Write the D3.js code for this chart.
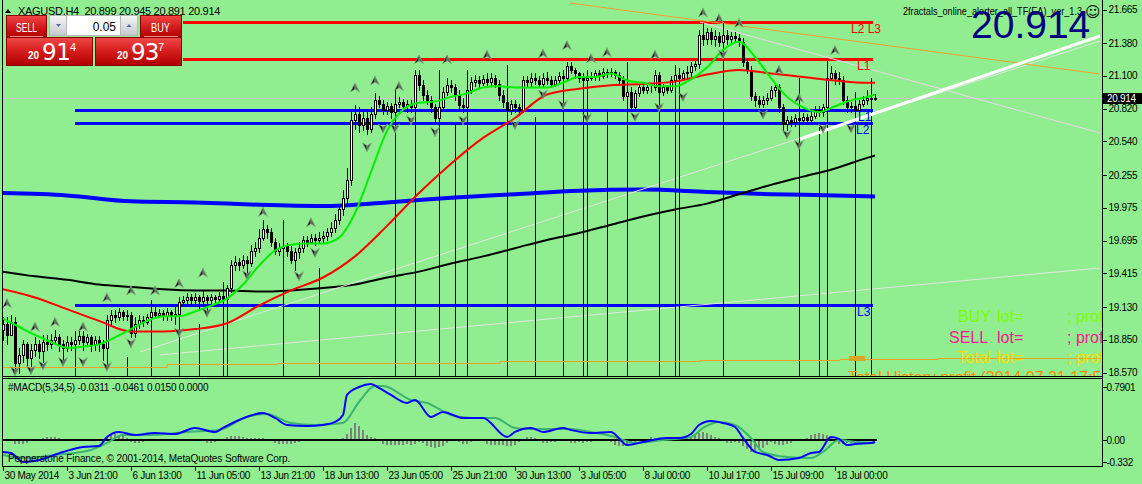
<!DOCTYPE html>
<html lang="en">
<head>
<meta charset="UTF-8">
<title>XAGUSD,H4</title>
<style>
  body { margin: 0; background: #90ee90; overflow: hidden; }
  svg { display: block; font-family: "Liberation Sans", Arial, sans-serif; }
  .axis text { font-size: 10px; letter-spacing: -0.3px; fill: #000; }
  .axis line, .axis path { stroke: #000; shape-rendering: crispEdges; }
</style>
</head>
<body>
<svg id="chart" width="1142" height="484"></svg>

<script src="https://cdn.jsdelivr.net/npm/d3@7"></script>
<script>
// ---- candles, H4, bar 0 = 30 May 2014 ----
const opens = [18.93,18.98,18.89,19.00,18.65,18.72,18.81,18.69,18.76,18.81,
  18.75,18.83,18.81,18.85,18.87,18.81,18.78,18.83,18.81,18.85,
  18.88,18.83,18.87,18.81,18.85,18.81,18.78,19.02,19.06,19.04,
  19.09,19.05,19.06,18.91,18.98,19.02,19.00,19.04,19.09,19.06,
  19.08,19.05,19.09,19.05,19.07,19.17,19.19,19.21,19.19,19.21,
  19.18,19.21,19.19,19.21,19.20,19.22,19.20,19.29,19.49,19.51,
  19.49,19.53,19.50,19.61,19.63,19.72,19.79,19.77,19.68,19.61,
  19.63,19.65,19.61,19.53,19.60,19.63,19.70,19.68,19.72,19.70,
  19.72,19.73,19.77,19.80,19.87,19.96,20.06,20.21,20.72,20.77,
  20.68,20.74,20.65,20.77,20.89,20.86,20.81,20.84,20.79,20.86,
  20.88,20.84,20.86,20.83,21.11,21.02,20.94,20.89,20.83,20.74,
  20.83,20.96,21.02,21.00,20.94,20.85,20.83,20.98,21.05,21.06,
  21.04,21.07,21.05,21.08,21.03,20.94,20.88,20.81,20.86,20.83,
  20.81,21.06,21.05,21.08,21.06,21.03,21.08,21.06,21.03,21.06,
  21.10,21.08,21.18,21.15,21.12,21.08,21.06,21.08,21.10,21.12,
  21.10,21.13,21.12,21.13,21.11,21.06,20.93,20.96,20.83,20.95,
  21.00,20.98,21.00,21.00,21.11,20.96,21.00,20.98,21.06,21.11,
  21.08,21.12,21.13,21.18,21.20,21.45,21.41,21.47,21.41,21.44,
  21.39,21.45,21.41,21.44,21.42,21.39,21.22,21.15,20.93,20.89,
  20.86,20.89,20.91,20.98,21.00,20.83,20.69,20.72,20.71,20.74,
  20.72,20.75,20.72,20.76,20.81,20.79,20.83,21.08,21.12,21.08,
  21.06,20.89,20.83,20.84,20.81,20.86,20.89,20.91,20.899];
const highs = [19.04,19.04,19.06,19.04,18.78,18.85,18.83,18.81,18.87,18.85,
  18.89,18.89,18.90,18.93,18.90,18.85,18.88,18.87,18.89,18.93,
  18.92,18.90,18.89,18.88,18.88,18.85,19.06,19.10,19.10,19.12,
  19.10,19.10,19.09,19.04,19.06,19.05,19.07,19.12,19.14,19.11,
  19.10,19.12,19.10,19.14,19.21,19.22,19.25,19.24,19.25,19.23,
  19.27,19.23,19.24,19.23,19.26,19.24,19.32,19.53,19.56,19.55,
  19.57,19.56,19.66,19.68,19.79,19.87,19.83,19.80,19.72,19.67,
  19.68,19.67,19.65,19.63,19.68,19.73,19.73,19.75,19.75,19.77,
  19.78,19.80,19.85,19.92,20.00,20.13,20.31,20.79,20.85,20.83,
  20.79,20.81,20.83,20.95,20.93,20.89,20.88,20.87,20.93,20.92,
  20.90,20.89,20.89,21.15,21.15,21.06,20.98,20.93,20.86,20.89,
  21.00,21.08,21.06,21.03,20.98,20.91,21.02,21.09,21.11,21.10,
  21.11,21.12,21.12,21.11,21.06,20.98,20.91,20.89,20.89,20.86,
  21.10,21.10,21.12,21.12,21.10,21.12,21.13,21.10,21.10,21.13,
  21.15,21.22,21.22,21.17,21.13,21.12,21.12,21.13,21.15,21.15,
  21.17,21.16,21.17,21.15,21.13,21.10,21.00,21.00,20.98,21.03,
  21.03,21.03,21.03,21.15,21.13,21.03,21.02,21.10,21.15,21.15,
  21.15,21.18,21.22,21.23,21.49,21.55,21.51,21.51,21.49,21.47,
  21.49,21.49,21.47,21.47,21.46,21.42,21.25,21.18,20.96,20.93,
  20.93,20.95,21.01,21.03,21.03,20.86,20.76,20.76,20.77,20.77,
  20.78,20.77,20.79,20.84,20.84,20.86,21.12,21.18,21.15,21.13,
  21.10,20.93,20.88,20.88,20.89,20.93,20.98,21.08,20.945];
const lows = [18.85,18.81,18.89,18.58,18.57,18.66,18.63,18.61,18.71,18.69,
  18.66,18.76,18.78,18.81,18.75,18.68,18.75,18.76,18.78,18.81,
  18.76,18.80,18.75,18.76,18.75,18.68,18.63,18.98,19.00,19.02,
  19.02,19.02,18.87,18.87,18.95,18.97,18.98,19.02,19.04,19.04,
  19.02,19.02,19.02,18.98,19.04,19.14,19.16,19.15,19.16,19.10,
  19.15,19.06,19.16,19.16,19.17,19.15,19.17,19.26,19.44,19.44,
  19.46,19.40,19.48,19.56,19.60,19.70,19.72,19.65,19.58,19.57,
  19.60,19.56,19.50,19.44,19.55,19.60,19.65,19.67,19.66,19.67,
  19.68,19.70,19.73,19.77,19.84,19.91,20.01,20.17,20.65,20.62,
  20.64,20.60,20.62,20.74,20.83,20.77,20.77,20.74,20.76,20.83,
  20.81,20.79,20.79,20.79,20.98,20.89,20.86,20.79,20.71,20.71,
  20.81,20.94,20.96,20.89,20.81,20.79,20.81,20.95,21.01,21.00,
  21.02,21.01,21.01,21.00,20.89,20.83,20.77,20.77,20.79,20.77,
  20.79,21.01,21.01,21.03,21.00,21.01,21.03,21.00,21.01,21.05,
  21.05,21.06,21.12,21.08,21.05,21.03,21.03,21.06,21.06,21.06,
  21.08,21.09,21.10,21.08,21.03,20.89,20.88,20.81,20.81,20.93,
  20.95,20.95,20.96,20.98,20.93,20.94,20.95,20.96,21.03,21.05,
  21.06,21.08,21.10,21.15,21.17,21.36,21.37,21.37,21.35,21.35,
  21.35,21.37,21.37,21.39,21.35,21.18,21.12,20.89,20.84,20.83,
  20.83,20.86,20.89,20.93,20.79,20.64,20.64,20.67,20.67,20.62,
  20.69,20.69,20.69,20.74,20.76,20.76,20.79,21.06,21.03,21.03,
  20.86,20.79,20.79,20.77,20.79,20.84,20.86,20.88,20.891];
const closes = [18.98,18.89,19.00,18.65,18.72,18.81,18.69,18.76,18.81,18.75,
  18.83,18.81,18.85,18.87,18.81,18.78,18.83,18.81,18.85,18.88,
  18.83,18.87,18.81,18.85,18.81,18.78,19.02,19.06,19.04,19.09,
  19.05,19.06,18.91,18.98,19.02,19.00,19.04,19.09,19.06,19.08,
  19.05,19.09,19.05,19.07,19.17,19.19,19.21,19.19,19.21,19.18,
  19.21,19.19,19.21,19.20,19.22,19.20,19.29,19.49,19.51,19.49,
  19.53,19.50,19.61,19.63,19.72,19.79,19.77,19.68,19.61,19.63,
  19.65,19.61,19.53,19.60,19.63,19.70,19.68,19.72,19.70,19.72,
  19.73,19.77,19.80,19.87,19.96,20.06,20.21,20.72,20.77,20.68,
  20.74,20.65,20.77,20.89,20.86,20.81,20.84,20.79,20.86,20.88,
  20.84,20.86,20.83,21.11,21.02,20.94,20.89,20.83,20.74,20.83,
  20.96,21.02,21.00,20.94,20.85,20.83,20.98,21.05,21.06,21.04,
  21.07,21.05,21.08,21.03,20.94,20.88,20.81,20.86,20.83,20.81,
  21.06,21.05,21.08,21.06,21.03,21.08,21.06,21.03,21.06,21.10,
  21.08,21.18,21.15,21.12,21.08,21.06,21.08,21.10,21.12,21.10,
  21.13,21.12,21.13,21.11,21.06,20.93,20.96,20.83,20.95,21.00,
  20.98,21.00,21.00,21.11,20.96,21.00,20.98,21.06,21.11,21.08,
  21.12,21.13,21.18,21.20,21.45,21.41,21.47,21.41,21.44,21.39,
  21.45,21.41,21.44,21.42,21.39,21.22,21.15,20.93,20.89,20.86,
  20.89,20.91,20.98,21.00,20.83,20.69,20.72,20.71,20.74,20.72,
  20.75,20.72,20.76,20.81,20.79,20.83,21.08,21.12,21.08,21.06,
  20.89,20.83,20.84,20.81,20.86,20.89,20.91,20.90,20.914];

const timeTickBars = [0,16,32,48,64,80,96,112,128,144,160,176,192,208];
const timeLabels = ['30 May 2014','3 Jun 21:00','6 Jun 13:00','11 Jun 05:00','13 Jun 21:00',
  '18 Jun 13:00','23 Jun 05:00','25 Jun 21:00','30 Jun 13:00','3 Jul 05:00','8 Jul 00:00',
  '10 Jul 17:00','15 Jul 09:00','18 Jul 00:00'];
const priceTicks = [21.665,21.380,21.100,20.820,20.540,20.255,19.975,19.695,19.415,19.130,18.850,18.570];

// moving averages at regular bar steps
const fastMaBars = d3.range(0, 217, 4).concat([218]);
const fastMa = [19.03,18.96,18.89,18.83,18.78,18.79,18.81,18.87,18.94,19.01,
  19.05,19.05,19.09,19.14,19.20,19.32,19.48,19.61,19.66,19.67,
  19.67,19.72,19.93,20.28,20.63,20.81,20.87,20.88,20.92,20.95,
  21.00,21.01,21.00,21.00,21.00,21.04,21.09,21.09,21.12,21.06,
  21.04,21.01,21.01,21.07,21.17,21.32,21.39,21.26,21.08,20.92,
  20.83,20.79,20.84,20.89,20.92,20.94];
const midMaBars = d3.range(0, 217, 8).concat([218]);
const midMa = [19.28,19.21,19.11,19.01,18.92,18.92,18.94,18.99,19.14,19.27,
  19.38,19.56,19.82,20.10,20.35,20.57,20.74,20.94,20.99,21.02,
  21.03,21.05,21.11,21.15,21.12,21.09,21.06,21.04,21.04];
const slowMa = [19.43,19.39,19.36,19.32,19.30,19.28,19.27,19.27,19.26,19.27,
  19.29,19.32,19.38,19.43,19.50,19.56,19.63,19.70,19.76,19.83,
  19.90,19.96,20.01,20.09,20.17,20.24,20.31,20.40,20.42];
const longMaBars = d3.range(0, 209, 16).concat([218]);
const longMa = [20.10,20.08,20.03,20.02,20.00,19.99,20.02,20.06,20.09,20.12,20.13,20.11,20.09,20.08,20.07];

// EA levels
const levelNames = ['L2 L3','L1','L1','L2','L3'];
const levelPrices = [21.56,21.24,20.808,20.697,19.145];
const levelFromBar = [45,45,18,18,18];
const levelToBar = [217.5,217.5,217.5,217.5,217.5];
const levelLabelBar = [212,213.5,213.75,213.25,213.5];
const levelSide = ['up','up','down','down','down'];

// trend lines as [bar, price] pairs
const orangeTrend = [[141.75,21.72],[274.25,21.115]];
const pinkTrend = [[174.25,21.558],[274.25,20.612]];
const grayTrendA = [[34.25,18.745],[274.25,21.396]];
const grayTrendB = [[39.25,18.72],[274.25,19.461]];
const whiteTrend = [[199.25,20.561],[274.25,21.439]];
const profitBars = [-1,41,68.5,124.25,174.25,209.25,233.75,274.25];
const profitLevel = [18.617,18.640,18.649,18.664,18.674,18.683,18.692,18.694];
const profitMark = [[211.5,18.69],[215.5,18.69]];

// fractal alert lines and arrows
const vlineBars = [18,31,37,44,49,55,56,70,79,98,103,109,113,116,126,133,140,145,146,151,
  156,164,168,169,180,199,204,206,213,217];
const vlineTops = [18.92,18.70,19.19,19.16,18.98,19.34,19.30,19.87,19.46,20.98,21.06,21.15,20.70,21.15,21.19,20.75,21.15,21.08,21.15,20.81,
  21.22,20.94,21.19,21.17,21.55,21.08,20.66,21.23,20.96,21.06];
const upBars = [1,8,13,20,26,32,38,44,50,65,77,88,93,99,104,111,121,135,141,147,151,163,175,179,184,194,199,208];
const upPrices = [19.16,18.96,19.00,18.96,19.21,19.27,19.27,19.33,19.42,19.94,19.85,21.00,21.06,21.01,21.24,21.24,21.28,21.29,21.36,21.25,
  21.30,21.28,21.64,21.59,21.55,21.15,20.91,21.32];
const downBars = [3,7,10,15,20,26,32,44,51,61,74,78,91,95,98,102,108,115,128,135,140,146,158,164,170,180,190,196,199,205,212];
const downPrices = [18.58,18.59,18.63,18.66,18.66,18.62,18.82,18.91,19.08,19.40,19.39,19.59,20.49,20.65,20.65,20.72,20.62,20.72,20.68,20.94,
  20.85,20.74,20.75,20.83,20.92,21.28,20.77,20.60,20.51,20.65,20.65];

// MACD(5,34,5)
const macdBars = [0,2,5,9,15,20,24,26,29,33,38,43,48,53,55,59,65,68,71,76,80,83,85,86,89,92,94,97,101,103,
  107,110,115,120,126,128,132,135,140,142,147,152,156,160,166,169,172,174,177,180,183,185,188,191,194,199,202,204,207,209,
  211,213,217,218];
const macdMain = [-0.18,-0.195,-0.33,-0.30,-0.18,-0.105,-0.09,0.045,0.12,0.075,0.105,0.09,0.18,0.12,0.18,0.30,0.405,0.33,0.225,0.21,
  0.225,0.27,0.375,0.675,0.795,0.84,0.78,0.675,0.555,0.60,0.345,0.42,0.33,0.33,0.045,0.12,0.18,0.12,0.18,0.15,
  0.105,0.12,-0.075,-0.03,0.03,0.03,0.09,0.225,0.285,0.255,0.195,0.03,-0.18,-0.225,-0.30,-0.27,-0.195,-0.18,0.045,0.015,
  -0.075,-0.06,-0.045,-0.0311];
const signalBars = [0,5,13,22,26,30,37,46,54,61,66,72,78,85,89,93,95,102,106,112,117,123,128,132,142,147,153,158,165,172,
  175,179,183,187,190,196,202,205,209,213,218];
const macdSignal = [-0.225,-0.27,-0.225,-0.15,-0.045,0.075,0.075,0.12,0.15,0.345,0.39,0.255,0.225,0.255,0.57,0.81,0.81,0.60,0.555,0.375,
  0.33,0.33,0.18,0.165,0.165,0.12,0.045,-0.045,0.0,0.045,0.18,0.27,0.225,0.03,-0.18,-0.255,-0.27,-0.18,0.0,-0.03,-0.0461];
const macdHist = [0.015,0.015,0.01,-0.06,-0.06,-0.06,-0.05,-0.02,-0.01,0,
  0.03,0.045,0.045,0.045,0.03,0.015,0.01,0,-0.01,-0.015,
  -0.01,0,0.01,0.015,0.01,0.015,0.045,0.075,0.09,0.075,
  0.06,0.03,-0.03,-0.045,-0.045,-0.03,-0.015,-0.01,0,-0.01,
  -0.015,0,0.015,0.015,0.015,0.01,0,-0.01,-0.01,-0.015,
  -0.02,-0.045,-0.045,-0.03,-0.01,0.015,0.045,0.06,0.06,0.06,
  0.045,0.03,0.03,0.03,0.03,0.03,0.015,0,-0.045,-0.06,
  -0.06,-0.06,-0.06,-0.045,-0.03,-0.015,-0.015,-0.01,-0.01,0,
  0,0.01,0.015,0.015,0.02,0.03,0.09,0.18,0.255,0.21,
  0.15,0.075,0.045,0.03,0,-0.06,-0.075,-0.075,-0.075,-0.075,
  -0.075,-0.06,-0.075,-0.06,-0.03,-0.045,-0.09,-0.105,-0.12,-0.105,
  -0.09,-0.045,-0.015,-0.015,-0.03,-0.06,-0.06,-0.03,-0.015,0,
  -0.015,-0.06,-0.075,-0.075,-0.075,-0.075,-0.09,-0.09,-0.075,-0.03,
  0.015,0.045,0.045,0.03,0,-0.045,-0.045,-0.03,-0.03,-0.015,
  -0.01,0,-0.045,-0.045,-0.03,-0.045,-0.03,-0.03,-0.015,-0.01,
  -0.01,-0.015,-0.03,-0.075,-0.09,-0.09,-0.075,-0.045,-0.03,-0.015,
  0,0.015,0.045,0.03,0.015,0,0,0,0.01,0.015,
  0.015,0.03,0.045,0.075,0.105,0.12,0.105,0.075,0.045,0.03,
  0,-0.045,-0.045,-0.03,-0.045,-0.09,-0.135,-0.18,-0.18,-0.15,
  -0.12,-0.075,-0.03,-0.06,-0.075,-0.075,-0.06,-0.045,-0.015,0,
  0.015,0.03,0.075,0.09,0.105,0.09,0.075,0.045,-0.03,-0.06,
  -0.06,-0.045,-0.045,-0.03,-0.03,-0.015,0,0.01,0.015];
const macdTicks = [0.7901, 0, -0.332];
const macdTickText = ['0.7901','0.00','-0.332'];

// ---- layout ----
const svg = d3.select('#chart');
const left = 2.5, right = 1102.5, mainBottom = 376.5, macdTop = 378.5, macdBottom = 466.5;

const x = d3.scaleLinear().domain([0, 218]).range([3, 875]);
const y = d3.scaleLinear().domain([18.570, 21.665]).range([372.5, 9.5]);
const ym = d3.scaleLinear().domain([-0.332, 0.7901]).range([462.1, 387.3]);
const px = i => Math.round(x(i));
const fmt = d3.format('.3f');

const defs = svg.append('defs');
defs.append('clipPath').attr('id', 'clipMain')
  .append('rect').attr('x', 3).attr('y', 0).attr('width', 1099).attr('height', 376);
defs.append('clipPath').attr('id', 'clipMacd')
  .append('rect').attr('x', 3).attr('y', 379).attr('width', 1099).attr('height', 87);

const redGrad = defs.append('linearGradient').attr('id', 'redBtn')
  .attr('x1', 0).attr('y1', 0).attr('x2', 0).attr('y2', 1);
redGrad.append('stop').attr('offset', '0%').attr('stop-color', '#f04848');
redGrad.append('stop').attr('offset', '50%').attr('stop-color', '#d41c1c');
redGrad.append('stop').attr('offset', '100%').attr('stop-color', '#b00000');
const grayGrad = defs.append('linearGradient').attr('id', 'grayBtn')
  .attr('x1', 0).attr('y1', 0).attr('x2', 0).attr('y2', 1);
grayGrad.append('stop').attr('offset', '0%').attr('stop-color', '#f6f6f6');
grayGrad.append('stop').attr('offset', '100%').attr('stop-color', '#c4c8d0');

svg.append('rect').attr('width', 1142).attr('height', 484).attr('fill', '#90ee90');

const main = svg.append('g').attr('clip-path', 'url(#clipMain)');

// current bid line
const lastY = Math.round(y(closes[closes.length - 1]));
main.append('line')
  .attr('x1', left).attr('x2', right).attr('y1', lastY + 0.5).attr('y2', lastY + 0.5)
  .attr('stroke', '#c8c8c8').attr('shape-rendering', 'crispEdges');

// horizontal levels
const levels = levelNames.map((n, k) => ({ n, p: levelPrices[k], a: levelFromBar[k], b: levelToBar[k], lb: levelLabelBar[k], side: levelSide[k] }));
main.selectAll('line.level').data(levels).join('line').attr('class', 'level')
  .attr('x1', d => x(d.a)).attr('x2', d => x(d.b))
  .attr('y1', d => Math.round(y(d.p)) + 0.5).attr('y2', d => Math.round(y(d.p)) + 0.5)
  .attr('stroke', d => d.side === 'up' ? '#ff0000' : '#0000ff')
  .attr('stroke-width', 3).attr('shape-rendering', 'crispEdges');

// slow averages under the candles
const maLine = d3.line().x(d => x(d[0])).y(d => y(d[1])).curve(d3.curveMonotoneX);
main.append('path').datum(longMaBars.map((b, k) => [b, longMa[k]]))
  .attr('d', maLine).attr('fill', 'none').attr('stroke', '#0000ff').attr('stroke-width', 4);
main.append('path').datum(midMaBars.map((b, k) => [b, slowMa[k]]))
  .attr('d', maLine).attr('fill', 'none').attr('stroke', '#000').attr('stroke-width', 2);

// trend lines
const tl = d3.line().x(d => x(d[0])).y(d => y(d[1]));
[[grayTrendB, '#e4e4e4', 1], [grayTrendA, '#e4e4e4', 1], [pinkTrend, '#ecd6ea', 1], [orangeTrend, '#f0a030', 1]]
  .forEach(([pts, col, w]) => {
    main.append('path').datum(pts).attr('d', tl).attr('fill', 'none').attr('stroke', col).attr('stroke-width', w);
  });

// alert verticals
main.selectAll('line.vl').data(vlineBars.map((b, k) => [b, vlineTops[k]])).join('line').attr('class', 'vl')
  .attr('x1', d => px(d[0]) + 0.5).attr('x2', d => px(d[0]) + 0.5)
  .attr('y1', d => y(d[1])).attr('y2', mainBottom)
  .attr('stroke', '#000').attr('shape-rendering', 'crispEdges');

// candles
const bars = closes.map((c, i) => ({ i, o: opens[i], h: highs[i], l: lows[i], c }));
const gc = main.append('g').attr('shape-rendering', 'crispEdges');
gc.selectAll('line').data(bars).join('line')
  .attr('x1', d => px(d.i) + 0.5).attr('x2', d => px(d.i) + 0.5)
  .attr('y1', d => Math.round(y(d.h))).attr('y2', d => Math.round(y(d.l)) + 1)
  .attr('stroke', '#000');
gc.selectAll('rect').data(bars).join('rect')
  .attr('x', d => px(d.i) - 0.5).attr('width', 2)
  .attr('y', d => Math.round(y(Math.max(d.o, d.c))) + 0.5)
  .attr('height', d => Math.max(0, Math.round(y(Math.min(d.o, d.c))) - Math.round(y(Math.max(d.o, d.c)))))
  .attr('fill', d => d.c >= d.o ? '#fff' : '#000')
  .attr('stroke', '#000');

// orange profit line over the bars
main.append('path').datum(profitBars.map((b, k) => [b, profitLevel[k]]))
  .attr('d', d3.line().x(d => x(d[0])).y(d => Math.round(y(d[1])) + 0.5).curve(d3.curveStepAfter))
  .attr('fill', 'none').attr('stroke', '#f0a020').attr('stroke-width', 1);
main.append('path').datum(profitMark)
  .attr('d', d3.line().x(d => x(d[0])).y(d => y(d[1])))
  .attr('stroke', '#daa520').attr('stroke-width', 5);

// faster averages over the candles
main.append('path').datum(midMaBars.map((b, k) => [b, midMa[k]]))
  .attr('d', maLine).attr('fill', 'none').attr('stroke', '#ff0000').attr('stroke-width', 2);
main.append('path').datum(fastMaBars.map((b, k) => [b, fastMa[k]]))
  .attr('d', maLine).attr('fill', 'none').attr('stroke', '#00ee00').attr('stroke-width', 2);

main.append('path').datum(whiteTrend).attr('d', tl).attr('fill', 'none')
  .attr('stroke', '#fff').attr('stroke-width', 3);

// fractal arrows: dark left half, grey right half
const arrowHalves = [['M0,-4.5L-4.5,4.5L0,1.5Z', '#101810'], ['M0,-4.5L4.5,4.5L0,1.5Z', '#4e6e50']];
function drawArrows(cls, bs, ps, flip) {
  const g = main.selectAll('g.' + cls).data(bs.map((b, k) => [b, ps[k]])).join('g').attr('class', cls)
    .attr('transform', d => `translate(${x(d[0])},${y(d[1])}) scale(1,${flip})`);
  arrowHalves.forEach(([d, col]) => {
    g.append('path').attr('d', d).attr('fill', col).attr('stroke', '#8aa88a').attr('stroke-width', 0.6);
  });
}
drawArrows('up', upBars, upPrices, 1);
drawArrows('down', downBars, downPrices, -1);

// level labels
main.selectAll('text.lvl').data(levels).join('text').attr('class', 'lvl')
  .attr('x', d => x(d.lb)).attr('y', d => y(d.p) + 11)
  .attr('font-size', 12).attr('fill', d => d.side === 'up' ? '#ff0000' : '#0000ff')
  .text(d => d.n);

// EA status lines
const status = main.append('g').attr('font-size', 16);
[['BUY', 958, 322, '#7cfc00'], ['SELL', 949, 343, '#ff1493'], ['Total', 957, 363, '#ffd700']].forEach(([t, tx, ty, col]) => {
  status.append('text').attr('x', tx).attr('y', ty).attr('fill', col).text(t);
  status.append('text').attr('x', 997).attr('y', ty).attr('fill', col).text('lot=');
  status.append('text').attr('x', 1067).attr('y', ty).attr('fill', col).text('; prof');
});
status.append('text').attr('x', 848).attr('y', 383).attr('fill', '#ff8c00').text('Total History profit (2014.07.21 17:51');

// ---- MACD pane ----
const macd = svg.append('g').attr('clip-path', 'url(#clipMacd)');
macd.selectAll('rect').data(macdHist.map((v, i) => [i, v])).join('rect')
  .attr('x', d => px(d[0]) - 1).attr('width', 2)
  .attr('y', d => Math.min(ym(0), ym(d[1]))).attr('height', d => Math.abs(ym(d[1]) - ym(0)))
  .attr('fill', '#808080').attr('shape-rendering', 'crispEdges');
macd.append('line').attr('x1', left).attr('x2', x(218) + 2)
  .attr('y1', ym(0)).attr('y2', ym(0)).attr('stroke', '#000').attr('stroke-width', 2);
const ml = d3.line().x(d => x(d[0])).y(d => ym(d[1])).curve(d3.curveMonotoneX);
macd.append('path').datum(signalBars.map((b, k) => [b, macdSignal[k]]))
  .attr('d', ml).attr('fill', 'none').attr('stroke', '#3cb371').attr('stroke-width', 2);
macd.append('path').datum(macdBars.map((b, k) => [b, macdMain[k]]))
  .attr('d', ml).attr('fill', 'none').attr('stroke', '#0000ff').attr('stroke-width', 2);

svg.append('text').attr('x', 8).attr('y', 391).attr('font-size', 10).attr('letter-spacing', -0.2)
  .text('#MACD(5,34,5) -0.0311 -0.0461 0.0150 0.0000');
svg.append('text').attr('x', 8).attr('y', 462).attr('font-size', 10).attr('letter-spacing', -0.1)
  .text('Pepperstone Finance, \u00a9 2001-2014, MetaQuotes Software Corp.');

// ---- frames ----
const frame = svg.append('g').attr('stroke', '#000').attr('shape-rendering', 'crispEdges');
frame.append('line').attr('x1', left).attr('x2', left).attr('y1', 0).attr('y2', macdBottom);
frame.append('line').attr('x1', right).attr('x2', right).attr('y1', 0).attr('y2', macdBottom);
frame.append('line').attr('x1', left).attr('x2', right).attr('y1', mainBottom).attr('y2', mainBottom);
frame.append('line').attr('x1', left).attr('x2', right).attr('y1', macdTop).attr('y2', macdTop);
frame.append('line').attr('x1', left).attr('x2', right).attr('y1', macdBottom).attr('y2', macdBottom);

// ---- axes ----
const yAxis = d3.axisRight(y).tickValues(priceTicks).tickFormat(fmt).tickSize(4).tickSizeOuter(0);
svg.append('g').attr('class', 'axis').attr('transform', `translate(${right},0)`).call(yAxis)
  .call(g => g.select('.domain').remove())
  .call(g => g.selectAll('text').attr('x', 6));

const mAxis = d3.axisRight(ym).tickValues(macdTicks).tickFormat((d, i) => macdTickText[i]).tickSize(4).tickSizeOuter(0);
svg.append('g').attr('class', 'axis').attr('transform', `translate(${right},0)`).call(mAxis)
  .call(g => g.select('.domain').remove())
  .call(g => g.selectAll('text').attr('x', 4));

const xAxis = d3.axisBottom(x).tickValues(timeTickBars).tickFormat((d, i) => timeLabels[i]).tickSize(4).tickSizeOuter(0);
svg.append('g').attr('class', 'axis').attr('transform', `translate(0,${macdBottom})`).call(xAxis)
  .call(g => g.select('.domain').remove())
  .call(g => g.selectAll('text').attr('text-anchor', 'start').attr('x', 1).attr('y', 5.5));

// last price tag
svg.append('rect').attr('x', 1103).attr('y', lastY - 5).attr('width', 39).attr('height', 11).attr('fill', '#000');
svg.append('text').attr('x', 1107).attr('y', lastY + 4).attr('font-size', 10).attr('letter-spacing', -0.3)
  .attr('fill', '#fff').text(fmt(closes[closes.length - 1]));

// ---- header ----
svg.append('path').attr('d', 'M5,13L8,9L11,13Z').attr('fill', '#000');
svg.append('text').attr('x', 18).attr('y', 14.5).attr('font-size', 11).attr('letter-spacing', -0.3)
  .attr('xml:space', 'preserve')
  .text(`XAGUSD,H4  ${fmt(opens[218])} ${fmt(highs[218])} ${fmt(lows[218])} ${fmt(closes[218])}`);

svg.append('text').attr('x', 903).attr('y', 15).attr('font-size', 10)
  .attr('textLength', 179).attr('lengthAdjust', 'spacingAndGlyphs')
  .text('2fractals_online_alerter_all_TF(EA)_ver_1.3');
svg.append('text').attr('x', 1085).attr('y', 17).attr('font-size', 15).attr('font-family', 'DejaVu Sans')
  .text('\u263a');
svg.append('text').attr('x', 971).attr('y', 38).attr('font-size', 39).attr('fill', '#000080')
  .text(fmt(closes[218]));

// ---- one click trading panel ----
const panel = svg.append('g');
panel.append('rect').attr('x', 6.5).attr('y', 37.5).attr('width', 86).attr('height', 28)
  .attr('fill', 'url(#redBtn)').attr('stroke', '#8a0000');
panel.append('rect').attr('x', 95.5).attr('y', 37.5).attr('width', 86).attr('height', 28)
  .attr('fill', 'url(#redBtn)').attr('stroke', '#8a0000');
panel.append('rect').attr('x', 6.5).attr('y', 15.5).attr('width', 40).attr('height', 22)
  .attr('fill', 'url(#redBtn)').attr('stroke', '#8a0000');
panel.append('rect').attr('x', 140.5).attr('y', 15.5).attr('width', 41).attr('height', 22)
  .attr('fill', 'url(#redBtn)').attr('stroke', '#8a0000');
panel.append('line').attr('x1', 10).attr('x2', 43).attr('y1', 36.5).attr('y2', 36.5).attr('stroke', '#f08a8a');
panel.append('line').attr('x1', 144).attr('x2', 178).attr('y1', 36.5).attr('y2', 36.5).attr('stroke', '#f08a8a');

panel.append('rect').attr('x', 49.5).attr('y', 15.5).attr('width', 88).attr('height', 20)
  .attr('fill', '#fff').attr('stroke', '#b8b8b8');
panel.append('rect').attr('x', 49.5).attr('y', 15.5).attr('width', 17).attr('height', 20)
  .attr('fill', 'url(#grayBtn)').attr('stroke', '#b8b8b8');
panel.append('rect').attr('x', 120.5).attr('y', 15.5).attr('width', 17).attr('height', 20)
  .attr('fill', 'url(#grayBtn)').attr('stroke', '#b8b8b8');
panel.append('path').attr('d', 'M56,24L61,24L58.5,27Z').attr('fill', '#5a6a9a');
panel.append('path').attr('d', 'M126.5,27L131.5,27L129,24Z').attr('fill', '#5a6a9a');
panel.append('text').attr('x', 116).attr('y', 30.5).attr('font-size', 12).attr('text-anchor', 'end').text('0.05');

const wt = panel.append('g').attr('fill', '#fff');
wt.append('text').attr('x', 16).attr('y', 32).attr('font-size', 12)
  .attr('textLength', 21).attr('lengthAdjust', 'spacingAndGlyphs').text('SELL');
wt.append('text').attr('x', 151).attr('y', 32).attr('font-size', 12)
  .attr('textLength', 19).attr('lengthAdjust', 'spacingAndGlyphs').text('BUY');
wt.append('text').attr('x', 28).attr('y', 59).attr('font-size', 10).attr('font-weight', 'bold').text('20');
wt.append('text').attr('x', 42).attr('y', 59.5).attr('font-size', 23).attr('font-family', 'DejaVu Sans')
  .attr('letter-spacing', -0.5).text('91');
wt.append('text').attr('x', 70).attr('y', 51).attr('font-size', 11).text('4');
wt.append('text').attr('x', 117).attr('y', 59).attr('font-size', 10).attr('font-weight', 'bold').text('20');
wt.append('text').attr('x', 131).attr('y', 59.5).attr('font-size', 23).attr('font-family', 'DejaVu Sans')
  .attr('letter-spacing', -1).text('93');
wt.append('text').attr('x', 158).attr('y', 51).attr('font-size', 11).text('7');
</script>
</body>
</html>
